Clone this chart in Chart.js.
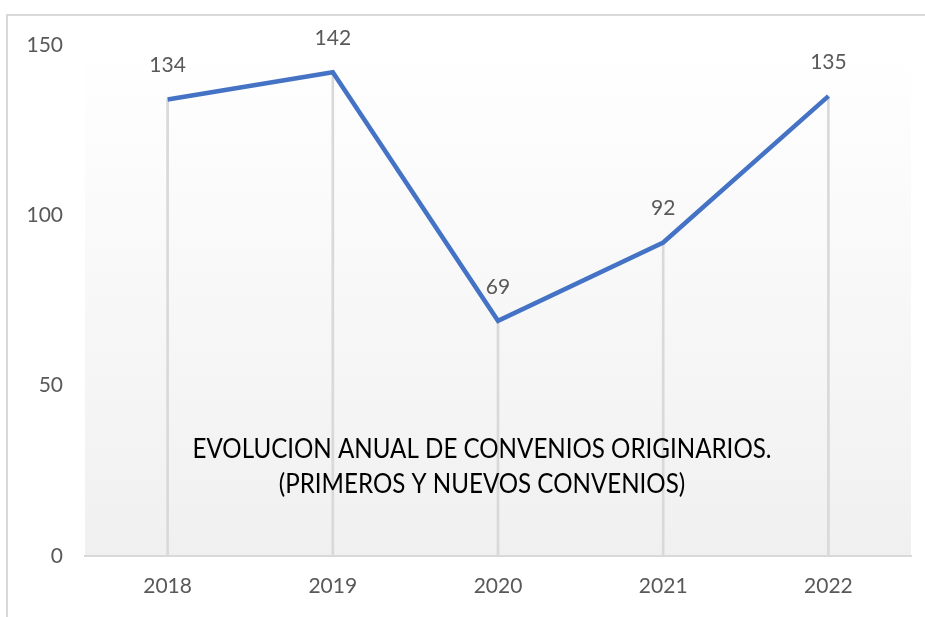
<!DOCTYPE html>
<html>
<head>
<meta charset="utf-8">
<script src="https://cdn.jsdelivr.net/npm/chart.js@4.4.1/dist/chart.umd.min.js"></script>
<style>
html, body { margin: 0; background: #fff; overflow: hidden; }
#frame { position: absolute; left: 6px; top: 14px; width: 940px; height: 640px; border-left: 2px solid #d9d9d9; border-top: 2px solid #d9d9d9; }
#wrap { position: absolute; left: 0; top: 0; width: 925px; height: 617px; }
</style>
</head>
<body>
<div id="frame"></div>
<div id="wrap"><canvas id="convenios"></canvas></div>
<script>
const years = ['2018', '2019', '2020', '2021', '2022'];
const convenios = [134, 142, 69, 92, 135];
const yTicks = [0, 50, 100, 150];
const titleLines = ['EVOLUCION ANUAL DE CONVENIOS ORIGINARIOS.', '(PRIMEROS Y NUEVOS CONVENIOS)'];

Chart.defaults.font.family = 'Lato';
Chart.defaults.color = '#595959';

// fondo degradado del area del grafico
const plotBg = {
  id: 'plotBg',
  beforeDraw(chart) {
    const {ctx, chartArea: a} = chart;
    const g = ctx.createLinearGradient(0, a.top, 0, a.bottom);
    g.addColorStop(0, '#ffffff');
    g.addColorStop(1, '#f0f0f0');
    ctx.save();
    ctx.fillStyle = g;
    ctx.fillRect(a.left, a.top, a.right - a.left, a.bottom - a.top);
    ctx.restore();
  }
};

// etiquetas de valor encima de cada punto
const valueLabels = {
  id: 'valueLabels',
  afterDatasetsDraw(chart) {
    const ctx = chart.ctx;
    const meta = chart.getDatasetMeta(0);
    ctx.save();
    ctx.font = '21px Lato';
    ctx.fillStyle = '#595959';
    ctx.textAlign = 'center';
    ctx.textBaseline = 'middle';
    meta.data.forEach((pt, i) => {
      ctx.fillText(String(convenios[i]), pt.x, pt.y - 34);
    });
    ctx.restore();
  }
};

// titulo dentro del area
const innerTitle = {
  id: 'innerTitle',
  afterDatasetsDraw(chart) {
    const ctx = chart.ctx;
    ctx.save();
    ctx.font = '27px Lato';
    ctx.fillStyle = '#000000';
    ctx.textAlign = 'center';
    ctx.textBaseline = 'alphabetic';
    const w = ctx.measureText(titleLines[0]).width;
    const s = Math.min(1, 579 / w);
    ctx.translate(482, 0);
    ctx.scale(s, 1);
    ctx.fillText(titleLines[0], 0, 458);
    ctx.fillText(titleLines[1], 0, 493);
    ctx.restore();
  }
};

const ctx = document.getElementById('convenios').getContext('2d');

const chart = new Chart(ctx, {
  type: 'bar',
  data: {
    labels: years,
    datasets: [{
      type: 'line',
      label: 'Convenios',
      data: convenios,
      borderColor: '#4472C4',
      borderWidth: 4.5,
      pointRadius: 0,
      tension: 0,
      fill: false,
      borderJoinStyle: 'miter',
      order: 0
    }, {
      type: 'bar',
      label: 'lineas',
      data: convenios,
      backgroundColor: '#d9d9d9',
      barThickness: 2,
      order: 1
    }]
  },
  options: {
    responsive: true,
    maintainAspectRatio: false,
    animation: false,
    layout: { padding: { left: 7, right: 14, top: 45, bottom: 0 } },
    plugins: {
      legend: { display: false },
      tooltip: { enabled: false }
    },
    scales: {
      x: {
        grid: { color: 'rgba(0,0,0,0)', drawTicks: false },
        border: { display: true, color: '#d9d9d9', width: 2 },
        ticks: { padding: 18, font: { size: 21 }, color: '#595959' }
      },
      y: {
        min: 0,
        max: 150,
        afterBuildTicks: s => { s.ticks = yTicks.map(v => ({ value: v })); },
        afterFit: s => { s.width = 78; },
        grid: { display: false, drawTicks: false },
        border: { display: false },
        ticks: { padding: 22, font: { size: 21 }, color: '#595959' }
      }
    }
  },
  plugins: [plotBg, valueLabels, innerTitle]
});
</script>
</body>
</html>
